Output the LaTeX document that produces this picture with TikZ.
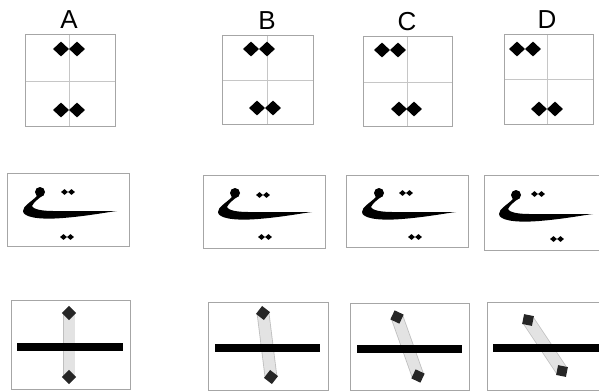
\documentclass[tikz,border=0pt]{standalone}
\usepackage{fontspec}
\setmainfont{Liberation Sans}
\usetikzlibrary{shapes.geometric,calc}
\tikzset{
  frame/.style={draw=gray!70, line width=0.8pt},
  gridline/.style={draw=gray!45, line width=0.7pt},
  bigdot/.style={diamond, fill=black, inner sep=0pt, minimum width=16pt, minimum height=15pt},
  smalldot/.style={diamond, fill=black, inner sep=0pt, minimum width=7pt, minimum height=6pt},
  endmark/.style={rectangle, fill=black!85, inner sep=0pt, minimum size=10pt},
  band/.style={draw=gray!50, line width=0.8pt, double=gray!22, double distance=11pt},
  kalam/.pic={
    \fill (14,-16) .. controls (8,-10) and (0,-6) .. (0,-1)
      .. controls (0,5) and (15,8) .. (40,6) .. controls (65,4) and (85,0) .. (94,-1)
      .. controls (75,-1) and (45,-1) .. (30,-1) .. controls (18,-1) and (10,-3) .. (9,-6)
      .. controls (11,-10) and (15,-13) .. (19,-16) -- cycle;
    \fill (17,-20) circle (5);
  }
}

\begin{document}
\begin{tikzpicture}[x=1pt, y=-1pt, font=\fontsize{26}{30}\selectfont]
\useasboundingbox (0,0) rectangle (599,391);
\clip (0,0) rectangle (599,391);
% top row: the four cells with their diamond pairs
\foreach \n/\xl/\yt/\xr/\yb/\vx/\my/\ty/\ta/\tb/\ly/\la/\lb in
  {A/25/34/115/126/69/81/49/61/77/110/61/77,
   B/222/35/313/124/267/80/49/251/267/108/257/273,
   C/363/36/452/126/407/82/50/382/398/109/399/414,
   D/504/34/593/124/547/79/49/517/533/109/539/555} {
  \draw[gridline] (\xl,\my) -- (\xr,\my);
  \draw[gridline] (\vx,\yt) -- (\vx,\yb);
  \draw[frame] (\xl,\yt) rectangle (\xr,\yb);
  \node[bigdot] (ta\n) at (\ta,\ty) {};
  \node[bigdot] (tb\n) at (\tb,\ty) {};
  \node[bigdot] (ba\n) at (\la,\ly) {};
  \node[bigdot] (bb\n) at (\lb,\ly) {};
  \node (lab\n) at (\vx,\yt-14) {\n};
}
% middle row: the letter, dots above and below
\foreach \n/\xl/\yt/\xr/\yb/\kx/\ky/\ux/\uy/\dx/\dy in
  {A/7/173/129/246/23/212/68/192/67/237,
   B/203/175/325/248/218/213/263/195/265/237,
   C/346/175/468/247/362/213/406/193/415/237,
   D/484/175/602/250/499/215/538/194/557/239} {
  \draw[frame] (\xl,\yt) rectangle (\xr,\yb);
  \pic at (\kx,\ky) {kalam};
  \node[smalldot] (ua\n) at (\ux-3.5,\uy) {};
  \node[smalldot] (ub\n) at (\ux+3.5,\uy) {};
  \node[smalldot] (da\n) at (\dx-3.5,\dy) {};
  \node[smalldot] (db\n) at (\dx+3.5,\dy) {};
}
% bottom row: bar, tilted band and its two end marks
\foreach \n/\xl/\yt/\xr/\yb/\bl/\br/\by/\sx/\sy/\ex/\ey in
  {A/11/300/130/389/17/123/347/69/313/69/377,
   B/208/302/328/390/215/320/348/263/313/271/377,
   C/350/303/469/390/357/462/349/397/317/418/376,
   D/487/302/602/390/493/600/348/528/320/562/371} {
  \draw[frame] (\xl,\yt) rectangle (\xr,\yb);
  \coordinate (s\n) at (\sx,\sy);
  \coordinate (e\n) at (\ex,\ey);
  \draw[band] (s\n) -- (e\n);
  \draw[line width=8pt] (\bl,\by) -- (\br,\by);
  \pgfmathsetmacro\ang{atan2(\ey-\sy,\ex-\sx)}
  \node[endmark, rotate=45-\ang] (ms\n) at (s\n) {};
  \node[endmark, rotate=45-\ang] (me\n) at (e\n) {};
}
\end{tikzpicture}
\end{document}
